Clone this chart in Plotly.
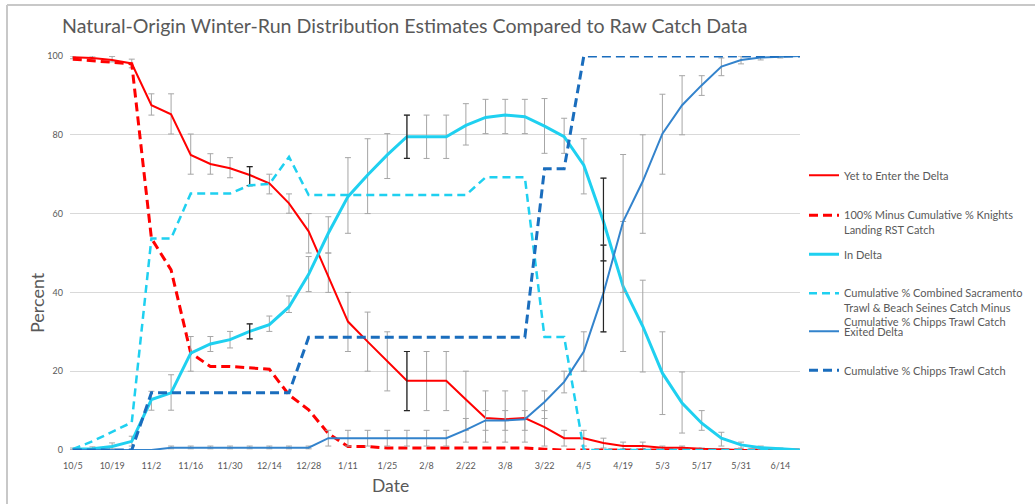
import plotly.graph_objects as go

# ---------------- data ----------------
DATES = ["2018-10-05", "2018-10-12", "2018-10-19", "2018-10-26", "2018-11-02", "2018-11-09",
         "2018-11-16", "2018-11-23", "2018-11-30", "2018-12-07", "2018-12-14", "2018-12-21",
         "2018-12-28", "2019-01-04", "2019-01-11", "2019-01-18", "2019-01-25", "2019-02-01",
         "2019-02-08", "2019-02-15", "2019-02-22", "2019-03-01", "2019-03-08", "2019-03-15",
         "2019-03-22", "2019-03-29", "2019-04-05", "2019-04-12", "2019-04-19", "2019-04-26",
         "2019-05-03", "2019-05-10", "2019-05-17", "2019-05-24", "2019-05-31", "2019-06-07",
         "2019-06-14", "2019-06-21"]

YET = [99.7, 99.5, 99.0, 98.1, 87.5, 85.2, 74.9, 72.6, 71.5, 69.8, 67.7, 62.6, 55.5, 44.0,
       32.6, 27.5, 22.5, 17.6, 17.6, 17.6, 12.8, 8.1, 7.8, 8.1, 5.8, 3.0, 3.0, 1.8, 1.0, 1.0,
       0.6, 0.6, 0.3, 0.1, 0, 0, 0, 0]
YET_LO = [99.3, 99.2, 98.5, 97.0, 85.0, 80.2, 70.0, 70.0, 69.1, 67.1, 65.0, 60.1, 50.0, 40.0,
          25.0, 20.0, 15.0, 10.0, 10.0, 10.0, 5.0, 2.0, 2.0, 2.0, 1.0, 1.0, 1.0, 0.5, 0.3, 0.3,
          0.2, 0.2, 0.1, 0, 0, 0, 0, None]
YET_HI = [100, 100, 99.9, 99.2, 90.4, 90.4, 80.2, 75.2, 74.2, 71.9, 70.0, 65.0, 60.0, 50.0,
          40.0, 35.0, 30.0, 25.0, 25.0, 25.0, 20.0, 15.0, 15.0, 15.0, 10.0, 5.0, 5.0, 3.0, 2.0, 2.0,
          1.0, 1.0, 0.5, 0.3, 0.1, 0.1, 0.1, None]

KNIGHTS = [99.2, 98.8, 98.3, 98.0, 53.7, 45.7, 24.6, 21.2, 21.2, 20.9, 20.5, 14.0, 10.2, 4.2,
           0.9, 0.9, 0.5, 0.5, 0.5, 0.5, 0.5, 0.5, 0.5, 0.5, 0.2, 0, 0, 0, 0, 0, 0, 0, 0, 0, 0,
           0, 0, 0]

IN_DELTA = [0.2, 0.3, 0.9, 2.2, 12.8, 14.5, 24.6, 26.9, 28.0, 30.1, 31.8, 36.3, 44.6, 55.0,
            64.3, 69.8, 74.9, 79.5, 79.5, 79.5, 82.4, 84.4, 85.0, 84.6, 82.2, 79.5, 72.3, 58.0,
            41.5, 31.4, 19.5, 11.9, 6.8, 3.0, 1.3, 0.6, 0.3, 0]
IN_LO = [0, 0, 0.3, 1.0, 10.1, 10.1, 20.0, 25.0, 25.9, 28.2, 30.1, 34.9, 40.2, 50.0, 55.0,
         60.0, 68.9, 74.0, 74.0, 74.0, 77.4, 80.3, 80.3, 80.3, 75.3, 75.3, 65.0, 48.0, 25.0,
         19.8, 9.0, 4.3, 5.0, 1.0, 0.5, 0.2, 0, None]
IN_HI = [0.5, 0.8, 1.8, 3.5, 14.9, 19.1, 28.8, 28.8, 30.1, 32.0, 34.0, 39.1, 49.1, 59.2, 74.2,
         79.0, 80.3, 85.0, 85.0, 85.0, 87.9, 89.0, 89.0, 89.0, 89.2, 84.2, 79.0, 69.0, 58.0,
         43.1, 30.0, 19.8, 10.0, 4.5, 2.0, 1.0, 0.5, None]

SAC_MINUS_CHIPPS = [0.2, 2.2, 4.6, 7.0, 53.7, 53.7, 65.1, 65.1, 65.1, 67.2, 67.5, 74.4, 64.7,
                    64.7, 64.7, 64.7, 64.7, 64.7, 64.7, 64.7, 64.7, 69.2, 69.2, 69.2, 28.7, 28.7,
                    0, 0, 0, 0, 0, 0, 0, 0, 0, 0, 0, 0]

EXITED = [0, 0, 0, 0, 0, 0.6, 0.6, 0.6, 0.6, 0.6, 0.6, 0.6, 0.6, 3.0, 3.0, 3.0, 3.0, 3.0, 3.0,
          3.0, 5.1, 7.5, 7.5, 7.8, 12.2, 17.3, 25.0, 39.8, 58.0, 68.2, 80.3, 87.5, 92.6, 97.3,
          99.0, 99.6, 99.8, 100]
EX_LO = [0, 0, 0, 0, 0, 0.3, 0.3, 0.3, 0.3, 0.3, 0.3, 0.3, 0.3, 1.0, 1.0, 1.0, 1.0, 1.0, 1.0,
         1.0, 2.0, 5.0, 5.0, 5.0, 8.0, 14.5, 20.0, 30.0, 40.0, 55.0, 70.0, 80.0, 90.0, 95.0,
         98.0, 99.0, 99.5, None]
EX_HI = [0, 0, 0, 0, 0, 1.0, 1.0, 1.0, 1.0, 1.0, 1.0, 1.0, 1.0, 5.0, 5.0, 5.0, 5.0, 5.0, 5.0,
         5.0, 8.0, 10.0, 10.0, 10.0, 15.0, 20.0, 30.0, 52.0, 75.0, 80.0, 90.3, 95.0, 95.0, 99.5,
         100, 100, 100, None]

CHIPPS = [0, 0, 0, 0, 14.5, 14.5, 14.5, 14.5, 14.5, 14.5, 14.5, 14.5, 28.6, 28.6, 28.6, 28.6,
          28.6, 28.6, 28.6, 28.6, 28.6, 28.6, 28.6, 28.6, 71.4, 71.4, 100, 100, 100, 100, 100,
          100, 100, 100, 100, 100, 100, 100]

# error bars drawn darker in the original
DARK_YET = [9, 17]
DARK_IN = [9, 17, 27]
DARK_EX = [27]

NAMES = ["Yet to Enter the Delta",
         "100% Minus Cumulative % Knights<br>Landing RST Catch",
         "In Delta",
         "Cumulative % Combined Sacramento<br>Trawl & Beach Seines Catch Minus<br>Cumulative % Chipps Trawl Catch",
         "Exited Delta",
         "Cumulative % Chipps Trawl Catch"]

RED = "#FF0000"
CYAN = "#1FD0F0"
BLUE = "#3383CC"
DBLUE = "#1A6DBD"
GRAY_BAR = "#A6A6A6"
TXT = "#595959"
FONT = "Lato"


def err(vals, lo, hi):
    plus = [None if h is None else max(h - v, 0) for v, h in zip(vals, hi)]
    minus = [None if l is None else max(v - l, 0) for v, l in zip(vals, lo)]
    return plus, minus


fig = go.Figure()


def solid(vals, lo, hi, name, color, width, legend):
    p, m = err(vals, lo, hi)
    fig.add_trace(go.Scatter(
        x=DATES, y=vals, name=name, mode="lines", legend=legend,
        line=dict(color=color, width=width),
        error_y=dict(type="data", symmetric=False, array=p, arrayminus=m,
                     color=GRAY_BAR, thickness=1, width=3),
        hoverinfo="skip"))


def dark(vals, lo, hi, idx):
    p, m = err(vals, lo, hi)
    fig.add_trace(go.Scatter(
        x=[DATES[i] for i in idx], y=[vals[i] for i in idx], mode="markers",
        marker=dict(size=1, color="rgba(0,0,0,0)"), showlegend=False,
        error_y=dict(type="data", symmetric=False, array=[p[i] for i in idx],
                     arrayminus=[m[i] for i in idx], color="#262626", thickness=1.2, width=3),
        hoverinfo="skip"))


def dashed(vals, name, color, width, dash, legend):
    fig.add_trace(go.Scatter(
        x=DATES, y=vals, name=name, mode="lines", legend=legend,
        line=dict(color=color, width=width, dash=dash), hoverinfo="skip"))


solid(YET, YET_LO, YET_HI, NAMES[0], RED, 2, "legend")
dark(YET, YET_LO, YET_HI, DARK_YET)
dashed(KNIGHTS, NAMES[1], RED, 3, "9px,5px", "legend2")
solid(IN_DELTA, IN_LO, IN_HI, NAMES[2], CYAN, 3, "legend3")
dark(IN_DELTA, IN_LO, IN_HI, DARK_IN)
dashed(SAC_MINUS_CHIPPS, NAMES[3], CYAN, 2.5, "8px,5px", "legend4")
solid(EXITED, EX_LO, EX_HI, NAMES[4], BLUE, 2, "legend5")
dark(EXITED, EX_LO, EX_HI, DARK_EX)
dashed(CHIPPS, NAMES[5], DBLUE, 3, "9px,5px", "legend6")

# ---------------- layout ----------------
W, H = 1035, 504
L, R, T, B = 70, 235, 56, 54
PW, PH = W - L - R, H - T - B


def px_x(x):
    return (x - L) / PW


def px_y(y):
    return (H - B - y) / PH


legend_common = dict(xanchor="left", yanchor="top", bgcolor="rgba(0,0,0,0)",
                     font=dict(family=FONT, size=11, color=TXT), valign="top",
                     itemclick=False, itemdoubleclick=False, tracegroupgap=0)
LEG_TOPS = [176, 216, 255, 294, 332, 371]
legends = {}
for k, ymid in enumerate(LEG_TOPS):
    key = "legend" if k == 0 else f"legend{k + 1}"
    legends[key] = dict(x=px_x(804), y=px_y(ymid - 14.5), **legend_common)

fig.update_layout(
    width=W, height=H,
    margin=dict(l=L, r=R, t=T, b=B, autoexpand=False),
    paper_bgcolor="white", plot_bgcolor="white",
    font=dict(family=FONT, color=TXT),
    title=dict(text="Natural-Origin Winter-Run Distribution Estimates Compared to Raw Catch Data",
               x=62 / W, xref="container", xanchor="left",
               y=1 - 26 / H, yref="container", yanchor="middle",
               font=dict(family=FONT, size=19.6, color=TXT)),
    xaxis=dict(type="date", range=["2018-10-04", "2019-06-21"],
               tick0="2018-10-05", dtick=14 * 86400000, tickformat="%-m/%-d",
               showgrid=False, zeroline=False, showline=False, ticks="",
               ticklabelstandoff=9,
               tickfont=dict(family=FONT, size=9, color=TXT)),
    yaxis=dict(range=[0, 100], dtick=20, showgrid=True, gridcolor="#D9D9D9", gridwidth=1,
               zeroline=False, showline=False, ticks="", ticklabelstandoff=6,
               tickfont=dict(family=FONT, size=9, color=TXT)),
    annotations=[
        dict(text="Percent", textangle=-90, x=px_x(37), y=px_y(303), xref="paper", yref="paper",
             xanchor="center", yanchor="middle",
             showarrow=False, font=dict(family=FONT, size=18, color=TXT)),
        dict(text="Date", x=px_x(390), y=px_y(485), xref="paper", yref="paper",
             xanchor="center", yanchor="middle",
             showarrow=False, font=dict(family=FONT, size=17.5, color=TXT)),
    ],
    shapes=[
        dict(type="line", xref="paper", yref="paper", x0=px_x(7), x1=px_x(1035),
             y0=px_y(5), y1=px_y(5), line=dict(color="#C8C8C8", width=2)),
        dict(type="line", xref="paper", yref="paper", x0=px_x(7), x1=px_x(7),
             y0=px_y(5), y1=px_y(504), line=dict(color="#C8C8C8", width=2)),
    ],
    showlegend=True,
    **legends,
)

fig.write_html("out.html")
